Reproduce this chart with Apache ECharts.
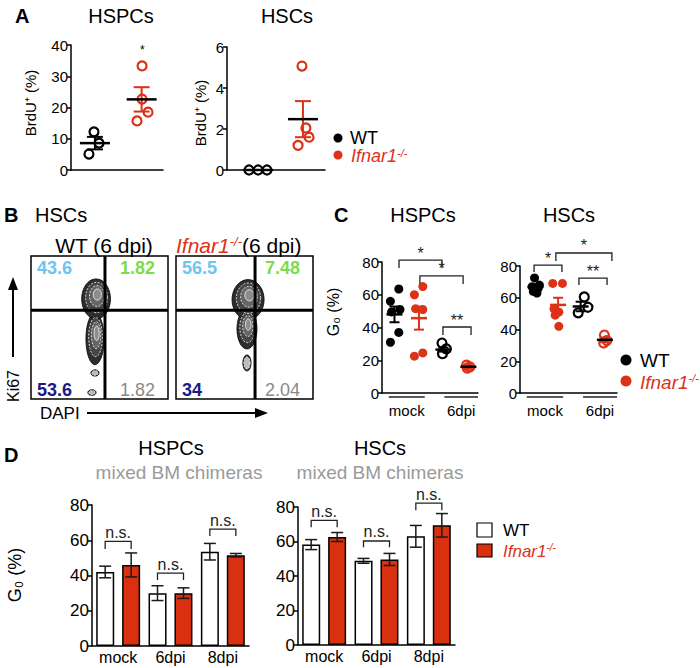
<!DOCTYPE html>
<html>
<head>
<meta charset="utf-8">
<script src="https://cdn.jsdelivr.net/npm/echarts@6/dist/echarts.min.js"></script>
<style>
  html, body { margin: 0; background: #fff; }
  #chart { width: 700px; height: 668px; }
</style>
</head>
<body>
<div id="chart"></div>
<script>
var FONT = 'Liberation Sans, Arial, Helvetica, sans-serif';
var BLACK = '#000';
var RED = '#dc3218';

// ---- panel A : BrdU+ (%), points are [x position, value] ----
var aHspcWT = [[1.0, 12.2], [1.22, 8.6], [0.78, 5.1]];
var aHspcKO = [[3.09, 33.3], [3.09, 22.7], [3.35, 18.5], [2.87, 15.7]];
var aHscWT = [[0.9, 0], [1.27, 0], [1.63, 0]];
var aHscKO = [[3.06, 5.07], [3.22, 2.05], [3.35, 1.6], [2.9, 1.2]];
// [x, mean, sem]
var aHspcStats = [[1.04, 8.6, 2.0], [3.07, 22.6, 3.9]];
var aHscStats = [[1.27, 0, 0], [3.1, 2.48, 0.88]];
var aHspcStar = [[3.1, 38.5, '*']];

// ---- panel B : Ki67 / DAPI quadrant gates [x, y] and quadrant % (TL, TR, BL, BR) ----
var bGateWT = [54, 62];
var bGateKO = [57.7, 62];
var bPctWT = ['43.6', '1.82', '53.6', '1.82'];
var bPctKO = ['56.5', '7.48', '34', '2.04'];
// density blobs [cx, cy, rx, ry]
var bBlobWT = [[46.7, 42, 6.6, 18], [47.5, 70, 10.5, 14], [46.7, 18.2, 3, 2.2], [44.5, 4.5, 3, 2]];
var bBlobKO = [[51.8, 49, 7.3, 14], [52.6, 69.5, 11.7, 14], [51.8, 25.2, 3, 5.6]];

// ---- panel C : G0 (%) ----
var cHspcMockWT = [[0.7, 63.5], [0.35, 56], [0.75, 51], [0.4, 49.5], [0.7, 37], [0.35, 31]];
var cHspcMockKO = [[1.7, 65], [1.35, 60], [1.4, 51.5], [1.7, 51], [1.35, 22.5], [1.7, 24.5]];
var cHspc6WT = [[2.5, 30.5], [2.68, 27], [2.52, 24]];
var cHspc6KO = [[3.52, 17], [3.66, 16], [3.55, 15.2]];
var cHspcStats = [[0.52, 48, 4.8], [1.54, 45.7, 7], [2.56, 26.5, 1.2], [3.6, 16, 0.6]];
var cHscMockWT = [[0.6, 72.5], [0.8, 68], [0.5, 67], [0.75, 66], [0.55, 64], [0.7, 63]];
var cHscMockKO = [[1.35, 69], [1.75, 69], [1.4, 53], [1.6, 51], [1.45, 49], [1.6, 42]];
var cHsc6WT = [[2.65, 60.5], [2.8, 54], [2.4, 50.5]];
var cHsc6KO = [[3.48, 36.5], [3.58, 33], [3.45, 31.5]];
var cHscStats = [[0.64, 66.8, 1.4], [1.57, 55.5, 4.5], [2.5, 54.5, 3], [3.5, 33.5, 1.5]];
// significance brackets [x1, x2, top, leg end, label]
var cHspcSig = [[0.71, 2.5, 81.2, 76.3, '*'], [1.58, 3.38, 71.5, 66.6, '*'], [2.54, 3.71, 40.3, 35.4, '**']];
var cHscSig = [[0.58, 1.73, 80.6, 76.2, '*'], [1.48, 3.79, 88.2, 83.1, '*'], [2.43, 3.59, 72.4, 68, '**']];
var cGroups = [[0.28, 1.78, 'mock'], [2.6, 4.0, '6dpi']];

// ---- panel D : mixed BM chimeras, G0 (%) ----
var dCats = ['mock', '6dpi', '8dpi'];
var dHspcWT = [42, 30, 53.5];
var dHspcWTErr = [3.3, 4.2, 4.7];
var dHspcKO = [46, 30, 51.5];
var dHspcKOErr = [6.8, 3, 1];
var dHscWT = [58.2, 48.8, 63];
var dHscWTErr = [2.9, 1.4, 6.3];
var dHscKO = [62.6, 49.6, 69.4];
var dHscKOErr = [2.6, 3.5, 6.8];
// n.s. brackets [category, top, leg end]
var dNsHspc = [[0, 59.4, 55], [1, 41.3, 37.4], [2, 66.3, 62.4]];
var dNsHsc = [[0, 72.3, 68.2], [1, 60.3, 56.7], [2, 82.3, 78.1]];

var chart = echarts.init(document.getElementById('chart'), null, {renderer: 'svg'});

function yAx(grid, max, step, size) {
    return {
        gridIndex: grid, type: 'value', min: 0, max: max, interval: step,
        axisLine: {show: true, lineStyle: {color: BLACK, width: 1.5}},
        axisTick: {show: true, length: 4, lineStyle: {color: BLACK, width: 1.5}},
        axisLabel: {color: BLACK, fontSize: size, fontFamily: FONT, margin: 3},
        splitLine: {show: false}
    };
}
function xVal(grid, max) {
    return {
        gridIndex: grid, type: 'value', min: 0, max: max,
        axisLine: {show: true, onZero: false, lineStyle: {color: BLACK, width: 1.5}},
        axisTick: {show: false}, axisLabel: {show: false}, splitLine: {show: false}
    };
}
function xCat(grid) {
    return {
        gridIndex: grid, type: 'category', data: dCats,
        axisLine: {show: true, lineStyle: {color: BLACK, width: 1.5}},
        axisTick: {show: false},
        axisLabel: {color: BLACK, fontSize: 16, fontFamily: FONT, margin: 3}
    };
}
function hid(grid) {
    return {gridIndex: grid, type: 'value', min: 0, max: 100, show: false};
}

function dots(grid, data, color, open, size) {
    return {
        type: 'scatter', xAxisIndex: grid, yAxisIndex: grid, data: data, symbol: 'circle',
        symbolSize: size, silent: true, z: 3,
        itemStyle: open
            ? {color: 'rgba(255,255,255,0)', borderColor: color, borderWidth: 2.2, opacity: 1}
            : {color: color, borderWidth: 0, opacity: 1}
    };
}

function stats(grid, data, meanColors, errColors, halfMean, halfCap) {
    return {
        type: 'custom', xAxisIndex: grid, yAxisIndex: grid, data: data, silent: true, z: 4,
        renderItem: function (params, api) {
            var i = params.dataIndex;
            var x = api.value(0), m = api.value(1), e = api.value(2);
            var c = api.coord([x, m]), hi = api.coord([x, m + e]), lo = api.coord([x, m - e]);
            var es = {stroke: errColors[i], lineWidth: 2};
            var kids = [];
            if (e > 0) {
                kids.push({type: 'line', shape: {x1: c[0], y1: hi[1], x2: c[0], y2: lo[1]}, style: es});
                kids.push({type: 'line', shape: {x1: c[0] - halfCap, y1: hi[1], x2: c[0] + halfCap, y2: hi[1]}, style: es});
                kids.push({type: 'line', shape: {x1: c[0] - halfCap, y1: lo[1], x2: c[0] + halfCap, y2: lo[1]}, style: es});
            }
            kids.push({type: 'line', shape: {x1: c[0] - halfMean, y1: c[1], x2: c[0] + halfMean, y2: c[1]},
                style: {stroke: meanColors[i], lineWidth: 2.5}});
            return {type: 'group', children: kids};
        }
    };
}

function textMarks(grid, rows, size) {
    return {
        type: 'custom', xAxisIndex: grid, yAxisIndex: grid, silent: true, z: 5,
        data: rows.map(function (r) { return [r[0], r[1]]; }),
        renderItem: function (params, api) {
            var p = api.coord([api.value(0), api.value(1)]);
            return {type: 'text', style: {x: p[0], y: p[1], text: rows[params.dataIndex][2],
                fontSize: size, fontFamily: FONT, fill: BLACK, align: 'center', verticalAlign: 'middle'}};
        }
    };
}

function sigC(grid, rows) {
    return {
        type: 'custom', xAxisIndex: grid, yAxisIndex: grid, silent: true, z: 5,
        data: rows.map(function (r) { return [r[0], r[2], r[1], r[3]]; }),
        renderItem: function (params, api) {
            var a = api.coord([api.value(0), api.value(1)]);
            var b = api.coord([api.value(2), api.value(3)]);
            return {type: 'group', children: [
                {type: 'polyline', shape: {points: [[a[0], b[1]], [a[0], a[1]], [b[0], a[1]], [b[0], b[1]]]},
                    style: {stroke: '#222', lineWidth: 1.3, fill: null}},
                {type: 'text', style: {x: (a[0] + b[0]) / 2, y: a[1] + 1, text: rows[params.dataIndex][4],
                    fontSize: 16, fontFamily: FONT, fill: '#222', align: 'center', verticalAlign: 'bottom'}}
            ]};
        }
    };
}

function groupAxis(grid, rows) {
    return {
        type: 'custom', xAxisIndex: grid, yAxisIndex: grid, silent: true, z: 5,
        data: rows.map(function (r) { return [r[0], 0, r[1]]; }),
        renderItem: function (params, api) {
            var a = api.coord([api.value(0), 0]);
            var b = api.coord([api.value(2), 0]);
            return {type: 'group', children: [
                {type: 'line', shape: {x1: a[0], y1: a[1] + 4, x2: b[0], y2: a[1] + 4}, style: {stroke: '#222', lineWidth: 1.3}},
                {type: 'text', style: {x: (a[0] + b[0]) / 2, y: a[1] + 17, text: rows[params.dataIndex][2],
                    fontSize: 15, fontFamily: FONT, fill: BLACK, align: 'center', verticalAlign: 'middle'}}
            ]};
        }
    };
}

function bars(grid, vals, fill) {
    return {
        type: 'bar', xAxisIndex: grid, yAxisIndex: grid, data: vals, barWidth: 18, barGap: '44%',
        silent: true, itemStyle: {color: fill, borderColor: BLACK, borderWidth: 1.5}
    };
}

function errD(grid, vals, errs, off) {
    return {
        type: 'custom', xAxisIndex: grid, yAxisIndex: grid, silent: true, z: 5,
        data: vals.map(function (v, i) { return [i, v, errs[i]]; }),
        renderItem: function (params, api) {
            var i = api.value(0), v = api.value(1), e = api.value(2);
            var hi = api.coord([i, v + e]), lo = api.coord([i, v - e]);
            var x = hi[0] + off, st = {stroke: '#1a1a1a', lineWidth: 1.5};
            return {type: 'group', children: [
                {type: 'line', shape: {x1: x, y1: hi[1], x2: x, y2: lo[1]}, style: st},
                {type: 'line', shape: {x1: x - 6, y1: hi[1], x2: x + 6, y2: hi[1]}, style: st},
                {type: 'line', shape: {x1: x - 6, y1: lo[1], x2: x + 6, y2: lo[1]}, style: st}
            ]};
        }
    };
}

function sigD(grid, rows) {
    return {
        type: 'custom', xAxisIndex: grid, yAxisIndex: grid, silent: true, z: 5,
        data: rows,
        renderItem: function (params, api) {
            var t = api.coord([api.value(0), api.value(1)]);
            var l = api.coord([api.value(0), api.value(2)]);
            var x1 = t[0] - 13, x2 = t[0] + 13;
            return {type: 'group', children: [
                {type: 'polyline', shape: {points: [[x1, l[1]], [x1, t[1]], [x2, t[1]], [x2, l[1]]]},
                    style: {stroke: '#222', lineWidth: 1.3, fill: null}},
                {type: 'text', style: {x: t[0], y: t[1] - 1, text: 'n.s.', fontSize: 16, fontFamily: FONT,
                    fill: '#222', align: 'center', verticalAlign: 'bottom'}}
            ]};
        }
    };
}

function ellipse(cx, cy, rx, ry) {
    var pts = [];
    for (var k = 0; k < 40; k++) {
        var t = k / 40 * Math.PI * 2;
        pts.push([cx + rx * Math.cos(t), cy + ry * Math.sin(t)]);
    }
    return pts;
}

// one series per contour level, so the outer levels of neighbouring blobs merge
var BLOB_LEVELS = [[1, '#2e2e2e', '#000', null], [0.76, '#474747', '#fff', [2, 1.5]],
    [0.52, '#666', '#fff', [2, 1.5]], [0.28, '#8c8c8c', '#fff', null]];
function blobs(grid, rows, j) {
    var lv = BLOB_LEVELS[j];
    return {
        type: 'custom', xAxisIndex: grid, yAxisIndex: grid, silent: true, z: 2 + j * 0.1, data: rows,
        renderItem: function (params, api) {
            var c = api.coord([api.value(0), api.value(1)]);
            var s = api.size([api.value(2), api.value(3)]);
            var small = s[0] < 8;
            if (small && j > 1) return {type: 'group', children: []};
            var sh = small ? 0 : (1 - lv[0]) * s[1] * 0.3;
            return {type: 'polygon', shape: {points: ellipse(c[0] + sh * 0.3, c[1] - sh, s[0] * lv[0], s[1] * lv[0])},
                style: {fill: small && j === 1 ? '#bbb' : lv[1], stroke: lv[2], lineWidth: 0.8, lineDash: lv[3]}};
        }
    };
}
function blobSet(grid, rows) {
    return [0, 1, 2, 3].map(function (j) { return blobs(grid, rows, j); });
}

function gates(grid, gate, pcts) {
    var cols = ['#6cc6f2', '#7edc4a', '#1b1b85', '#8a8a8a'];
    return {
        type: 'custom', xAxisIndex: grid, yAxisIndex: grid, silent: true, z: 6, data: [gate],
        renderItem: function (params, api) {
            var g = api.coord([api.value(0), api.value(1)]);
            var tl = api.coord([0, 100]), br = api.coord([100, 0]);
            var ln = {stroke: BLACK, lineWidth: 3};
            var kids = [
                {type: 'line', shape: {x1: g[0], y1: tl[1], x2: g[0], y2: br[1]}, style: ln},
                {type: 'line', shape: {x1: tl[0], y1: g[1], x2: br[0], y2: g[1]}, style: ln}
            ];
            var pos = [[tl[0] + 6, tl[1] + 12, 'left'], [br[0] - 13, tl[1] + 12, 'right'],
                [tl[0] + 6, br[1] - 9, 'left'], [br[0] - 13, br[1] - 9, 'right']];
            pos.forEach(function (p, i) {
                kids.push({type: 'text', style: {x: p[0], y: p[1], text: pcts[i], align: p[2], verticalAlign: 'middle',
                    fontSize: 18, fontFamily: FONT, fontWeight: i < 3 ? 'bold' : 'normal', fill: cols[i]}});
            });
            return {type: 'group', children: kids};
        }
    };
}

// ---- free-standing text / annotation ----
function txt(x, y, text, size, o) {
    o = o || {};
    return {
        type: 'text', x: x, y: y, rotation: o.rot || 0, silent: true,
        style: {text: text, fontSize: size, fontFamily: FONT, fontWeight: o.bold ? 'bold' : 'normal',
            fill: o.color || BLACK, align: o.align || 'center', verticalAlign: 'middle'}
    };
}
function ifnar(x, y, size, tail) {
    return {
        type: 'text', x: x, y: y, silent: true,
        style: {
            text: '{i|Ifnar1}{s|-/-}' + (tail ? '{n|' + tail + '}' : ''),
            align: 'left', verticalAlign: 'middle',
            rich: {
                i: {fontSize: size, fontStyle: 'italic', fontFamily: FONT, fill: RED},
                s: {fontSize: Math.round(size * 0.6), fontStyle: 'italic', fontFamily: FONT, fill: RED, verticalAlign: 'top'},
                n: {fontSize: size, fontFamily: FONT, fill: BLACK}
            }
        }
    };
}
function dot(x, y, r, color) {
    return {type: 'circle', shape: {cx: x, cy: y, r: r}, style: {fill: color}, silent: true};
}
function box(x, y, w, h, color) {
    return {type: 'rect', shape: {x: x, y: y, width: w, height: h}, style: {fill: color, stroke: BLACK, lineWidth: 1.2}, silent: true};
}
function arrow(x1, y1, x2, y2, head) {
    return {type: 'group', silent: true, children: [
        {type: 'line', shape: {x1: x1, y1: y1, x2: x2, y2: y2}, style: {stroke: BLACK, lineWidth: 2}},
        {type: 'polygon', shape: {points: head}, style: {fill: BLACK}}
    ]};
}

var series = [
    // A
    dots(0, aHspcWT, BLACK, true, 9), dots(0, aHspcKO, RED, true, 9),
    stats(0, aHspcStats, [BLACK, BLACK], [BLACK, RED], 15, 8),
    textMarks(0, aHspcStar, 12),
    dots(1, aHscWT, BLACK, true, 9), dots(1, aHscKO, RED, true, 9),
    stats(1, aHscStats, [BLACK, BLACK], [BLACK, RED], 15, 8),
    // B
    gates(2, bGateWT, bPctWT), gates(3, bGateKO, bPctKO),
    // C
    dots(4, cHspcMockWT, BLACK, false, 9), dots(4, cHspcMockKO, RED, false, 9),
    dots(4, cHspc6WT, BLACK, true, 9), dots(4, cHspc6KO, RED, true, 9),
    stats(4, cHspcStats, [BLACK, RED, BLACK, BLACK], [BLACK, RED, BLACK, RED], 8, 5),
    sigC(4, cHspcSig), groupAxis(4, cGroups),
    dots(5, cHscMockWT, BLACK, false, 9), dots(5, cHscMockKO, RED, false, 9),
    dots(5, cHsc6WT, BLACK, true, 9), dots(5, cHsc6KO, RED, true, 9),
    stats(5, cHscStats, [BLACK, RED, BLACK, BLACK], [BLACK, RED, BLACK, RED], 8, 5),
    sigC(5, cHscSig), groupAxis(5, cGroups),
    // D
    bars(6, dHspcWT, '#fff'), bars(6, dHspcKO, '#d9310f'),
    errD(6, dHspcWT, dHspcWTErr, -13), errD(6, dHspcKO, dHspcKOErr, 13), sigD(6, dNsHspc),
    bars(7, dHscWT, '#fff'), bars(7, dHscKO, '#d9310f'),
    errD(7, dHscWT, dHscWTErr, -13), errD(7, dHscKO, dHscKOErr, 13), sigD(7, dNsHsc)
].concat(blobSet(2, bBlobWT), blobSet(3, bBlobKO));

var option = {
    animation: false,
    backgroundColor: '#fff',
    grid: [
        {left: 71, top: 45, width: 92, height: 125},
        {left: 227, top: 47, width: 98, height: 123},
        {left: 31, top: 256, width: 137, height: 143, show: true, borderColor: BLACK, borderWidth: 1.5, backgroundColor: 'rgba(0,0,0,0)'},
        {left: 176, top: 256, width: 137, height: 143, show: true, borderColor: BLACK, borderWidth: 1.5, backgroundColor: 'rgba(0,0,0,0)'},
        {left: 382, top: 262, width: 96, height: 131},
        {left: 520, top: 266, width: 97, height: 127},
        {left: 92, top: 505, width: 157, height: 141},
        {left: 298, top: 507, width: 157, height: 138}
    ],
    xAxis: [xVal(0, 4), xVal(1, 4), hid(2), hid(3), xVal(4, 4), xVal(5, 4), xCat(6), xCat(7)],
    yAxis: [yAx(0, 40, 10, 15), yAx(1, 6, 2, 15), hid(2), hid(3),
        yAx(4, 80, 20, 15), yAx(5, 80, 20, 15), yAx(6, 80, 20, 17), yAx(7, 80, 20, 17)],
    series: series,
    graphic: [
        // A
        txt(15, 16, 'A', 20, {bold: true, align: 'left'}),
        txt(121, 16, 'HSPCs', 20), txt(287, 16, 'HSCs', 20),
        txt(30, 103, 'BrdU⁺ (%)', 15, {rot: Math.PI / 2}),
        txt(200, 113, 'BrdU⁺ (%)', 15, {rot: Math.PI / 2}),
        dot(338, 138, 4.5, BLACK), txt(350, 138, 'WT', 18, {align: 'left'}),
        dot(338, 155, 4.5, RED), ifnar(351, 156, 18),
        // B
        txt(4, 215, 'B', 20, {bold: true, align: 'left'}),
        txt(35, 215, 'HSCs', 20, {align: 'left'}),
        txt(104, 245, 'WT (6 dpi)', 21),
        ifnar(176, 245, 21, '(6 dpi)'),
        arrow(13, 357, 13, 287, [[13, 277], [8, 290], [18, 290]]),
        txt(13, 386, 'Ki67', 16, {rot: Math.PI / 2}),
        txt(40, 413, 'DAPI', 17, {align: 'left'}),
        arrow(87, 413, 258, 413, [[268, 413], [255, 408], [255, 418]]),
        // C
        txt(334, 215, 'C', 20, {bold: true, align: 'left'}),
        txt(423, 215, 'HSPCs', 20), txt(569, 215, 'HSCs', 20),
        txt(333, 312, 'G₀ (%)', 16, {rot: Math.PI / 2}),
        dot(626, 360, 5.5, BLACK), txt(640, 360, 'WT', 19, {align: 'left'}),
        dot(626, 381, 5.5, RED), ifnar(640, 382, 19),
        // D
        txt(4, 455, 'D', 20, {bold: true, align: 'left'}),
        txt(171, 448, 'HSPCs', 20),
        txt(179, 472, 'mixed BM chimeras', 19, {color: '#9a9a9a'}),
        txt(380, 448, 'HSCs', 20),
        txt(380, 472, 'mixed BM chimeras', 19, {color: '#9a9a9a'}),
        txt(15, 575, 'G₀ (%)', 18, {rot: Math.PI / 2}),
        box(477, 523, 15, 14, '#fff'), txt(503, 530, 'WT', 17, {align: 'left'}),
        box(477, 544, 15, 13, '#d9310f'), ifnar(503, 551, 17)
    ]
};
chart.setOption(option);
</script>
</body>
</html>
